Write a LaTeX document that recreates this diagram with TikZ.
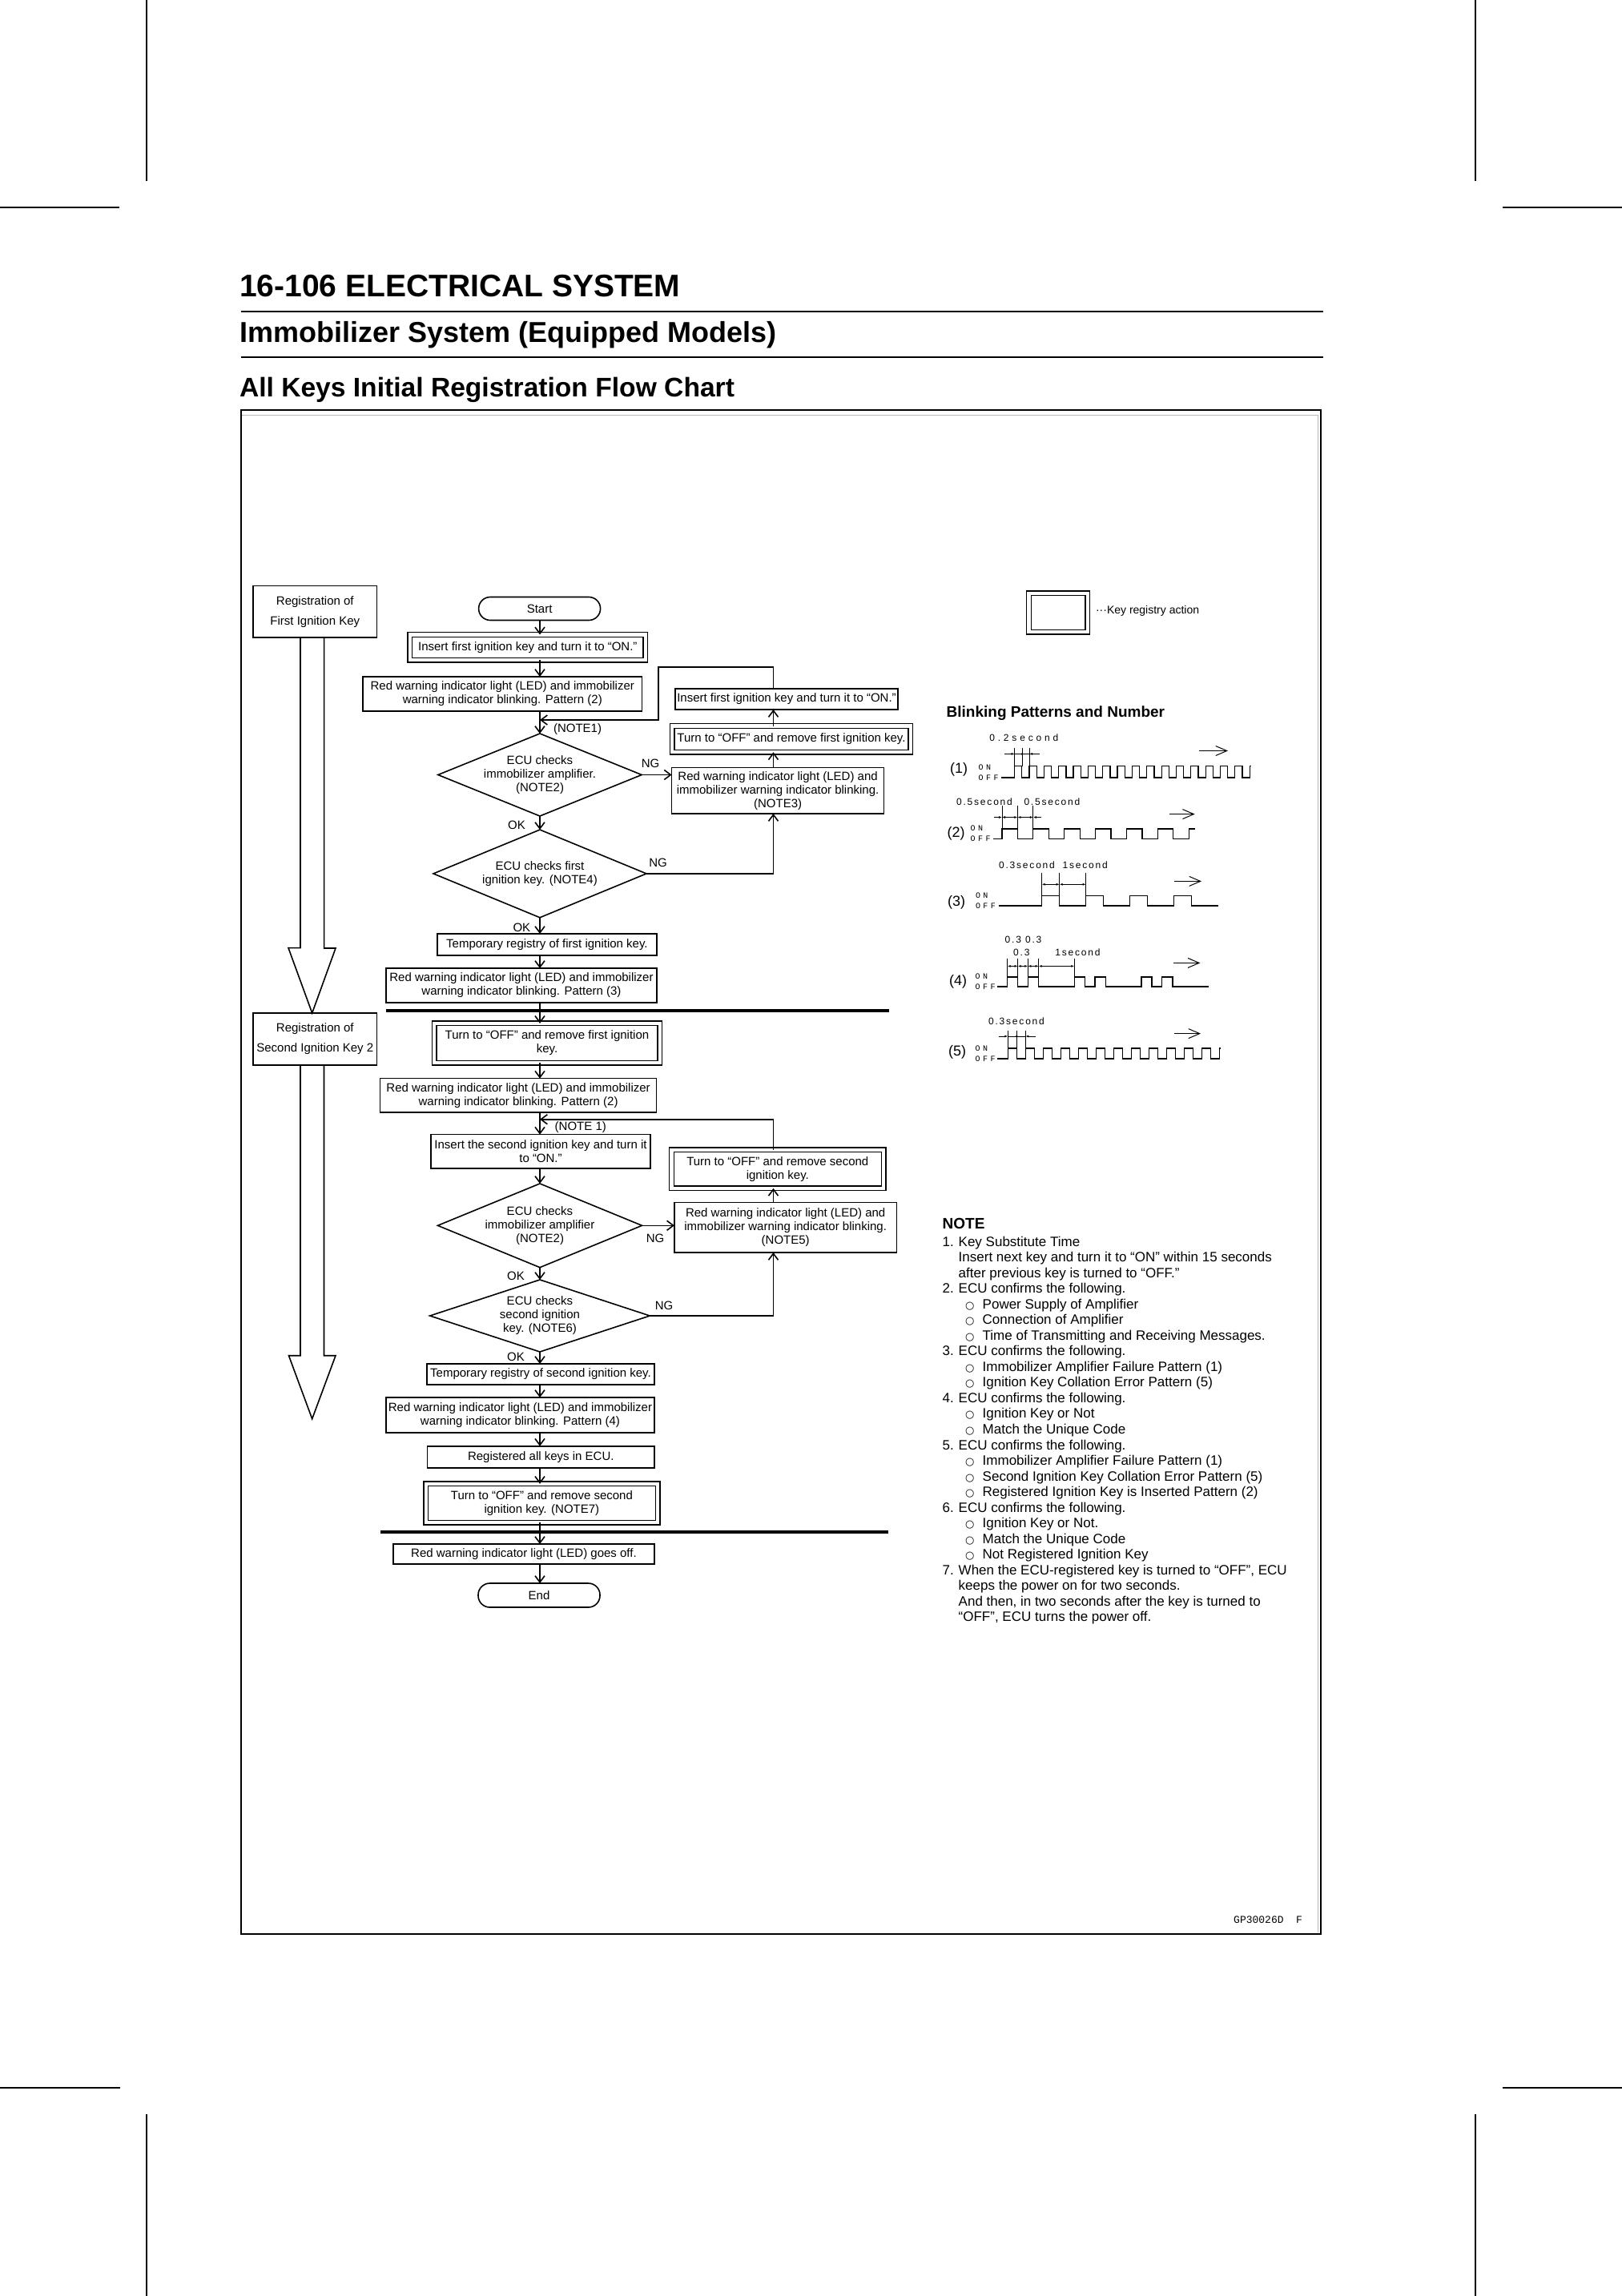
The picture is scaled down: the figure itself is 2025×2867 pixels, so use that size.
\documentclass[tikz,border=0pt]{standalone}
\usepackage{fontspec}
\setmainfont{Liberation Sans}
\newfontfamily\dimfont[LetterSpace=15]{Liberation Sans}
\newfontfamily\dimwidefont[LetterSpace=32]{Liberation Sans}
\newfontfamily\onofffont[LetterSpace=34]{Liberation Mono}
\newfontfamily\codefont{Liberation Mono}
\newfontfamily\bulfont{DejaVu Sans}
\usetikzlibrary{shapes.geometric,arrows.meta,calc,positioning}

\newcommand\flowfont{\fontsize{15}{17}\selectfont}
\newcommand\nnum[2]{\makebox[20pt][l]{#1}#2}
\newcommand\ncont[1]{\hspace*{20pt}#1}
\newcommand\nbul[1]{\hspace*{28.3pt}\makebox[21.7pt][l]{\bulfont\fontsize{13}{13}\selectfont ○}#1}

\begin{document}
\begin{tikzpicture}[%
    x=1pt, y=-1pt,
    >={Straight Barb[length=8pt,width=12pt]},
    line width=1.7pt,
    every node/.style={inner sep=0pt, outer sep=0pt},
    sz/.style 2 args={minimum width=#1pt, minimum height=#2pt},
    box/.style={draw, line width=1.6pt, align=center, font=\flowfont},
    keybox/.style={box, double, double distance=4.2pt, line width=1.4pt},
    term/.style={box, rounded corners=14.5pt},
    decision/.style={draw, diamond, line width=1.6pt},
    regbox/.style={box, font=\fontsize{15}{25}\selectfont},
    lbl/.style={font=\flowfont},
    flow/.style={->, line width=1.6pt},
    bigarrow/.style={line width=1.6pt, line join=miter},
    sep/.style={line width=3.2pt},
    wave/.style={line width=1.2pt, line join=miter},
    dim/.style={line width=0.9pt},
    dimarr/.style={dim, -{Latex[length=4pt,width=3pt]}},
    dimboth/.style={dim, {Latex[length=4pt,width=3pt]}-{Latex[length=4pt,width=3pt]}},
    runarrow/.style={line width=1pt, -{Straight Barb[length=14pt,width=12pt]}},
    dimlbl/.style={font=\dimfont\fontsize{12}{12}\selectfont},
    onoff/.style={anchor=west, font=\onofffont\fontsize{10}{10}\selectfont},
    patno/.style={font=\fontsize{18}{18}\selectfont},
    notetxt/.style={anchor=base west, font=\fontsize{17}{19.54}\selectfont},
    crop/.style={line width=2pt},
  ]
    \useasboundingbox (0,0) rectangle (2025,2867);

    \draw[crop] (182.7,0) -- (182.7,226) (1842,0) -- (1842,226)
      (0,259.3) -- (149.3,259.3) (1875.7,259.3) -- (2025,259.3)
      (0,2607) -- (150,2607) (1875.7,2607) -- (2025,2607)
      (182.7,2640) -- (182.7,2867) (1842,2640) -- (1842,2867);

    \node[anchor=base west, font=\fontsize{39}{39}\selectfont\bfseries] (title) at (299,370) {16-106 ELECTRICAL SYSTEM};
    \draw[line width=2.5pt] (300.6,389) -- (1652,389);
    \node[anchor=base west, font=\fontsize{36}{36}\selectfont\bfseries] (subtitle) at (299,427) {Immobilizer System (Equipped Models)};
    \draw[line width=2.5pt] (300.6,446) -- (1652,446);
    \node[anchor=base west, font=\fontsize{33.6}{33.6}\selectfont\bfseries] (section) at (299,495) {All Keys Initial Registration Flow Chart};

    \draw[line width=2pt] (300.7,512.3) rectangle (1648.5,2415);
    \draw[gray!55, line width=1pt] (302,518.8) -- (1645,518.8) -- (1645,2413);

    \coordinate (ax) at (674,0);
    \coordinate (rx) at (965.5,0);

    \node[regbox, sz={154.6}{64.6}] (reg1) at (393.3,763.7) {Registration of\\First Ignition Key};
    \node[regbox, sz={154.6}{65}] (reg2) at (393.3,1297.5) {Registration of\\Second Ignition Key 2};

    \node[term, sz={152}{29}] (start) at (673.6,760) {Start};
    \node[keybox, sz={293.9}{31.7}] (ins1) at (658.8,808.3) {Insert first ignition key and turn it to “ON.”};
    \node[box, sz={348.6}{43}] (red2a) at (627.3,866.5) {Red warning indicator light (LED) and immobilizer\\warning indicator blinking. Pattern (2)};
    \node[lbl] (note1a) at (721,911) {(NOTE1)};
    \node[decision, sz={254.3}{103}, label={[name=d1txt, font=\flowfont, align=center]center:{ECU checks\\immobilizer amplifier.\\(NOTE2)}}] (d1) at (674,967.5) {};
    \node[lbl] (ng1) at (812,953) {NG};
    \node[lbl] (ok1) at (645,1030) {OK};
    \node[decision, sz={266}{109.7}, label={[name=d2txt, font=\flowfont, align=center]center:{ECU checks first\\ignition key. (NOTE4)}}] (d2) at (674,1090.9) {};
    \node[lbl] (ng2) at (821.5,1077) {NG};
    \node[lbl] (ok2) at (651.4,1158.6) {OK};
    \node[box, sz={274.3}{27}] (tmp1) at (682.9,1179.5) {Temporary registry of first ignition key.};
    \node[box, sz={338}{43}] (red3) at (651,1230.5) {Red warning indicator light (LED) and immobilizer\\warning indicator blinking. Pattern (3)};

    \node[box, sz={278}{26}] (ins1b) at (982,873) {Insert first ignition key and turn it to “ON.”};
    \node[keybox, sz={297.4}{32.8}] (off1) at (988,922.9) {Turn to “OFF” and remove first ignition key.};
    \node[box, sz={265}{57.4}] (note3) at (971.1,987.3) {Red warning indicator light (LED) and\\immobilizer warning indicator blinking.\\(NOTE3)};

    \draw[sep] (482,1262) -- (1110,1262);

    \node[keybox, sz={281.4}{49.3}] (off1b) at (683,1302.5) {Turn to “OFF” and remove first ignition\\key.};
    \node[box, sz={345}{42.3}] (red2b) at (647.1,1367.8) {Red warning indicator light (LED) and immobilizer\\warning indicator blinking. Pattern (2)};
    \node[lbl] (note1b) at (724.8,1408) {(NOTE 1)};
    \node[box, sz={274}{42.3}] (ins2) at (675,1437.8) {Insert the second ignition key and turn it\\to “ON.”};
    \node[decision, sz={255}{104.7}, label={[name=d3txt, font=\flowfont, align=center]center:{ECU checks\\immobilizer amplifier\\(NOTE2)}}] (d3) at (674,1530.3) {};
    \node[lbl] (ng3) at (818,1546.7) {NG};
    \node[lbl] (ok3) at (644,1593) {OK};
    \node[decision, sz={274.6}{90}, label={[name=d4txt, font=\flowfont, align=center]center:{ECU checks\\second ignition\\key. (NOTE6)}}] (d4) at (674,1643) {};
    \node[lbl] (ng4) at (829,1630) {NG};
    \node[lbl] (ok4) at (644,1694) {OK};
    \node[box, sz={284}{26}] (tmp2) at (675,1716) {Temporary registry of second ignition key.};
    \node[box, sz={335}{44}] (red4) at (649.5,1767) {Red warning indicator light (LED) and immobilizer\\warning indicator blinking. Pattern (4)};
    \node[box, sz={283.5}{27.3}] (regall) at (675.3,1819.4) {Registered all keys in ECU.};
    \node[keybox, sz={289.6}{48.3}] (off3) at (676.4,1877) {Turn to “OFF” and remove second\\ignition key. (NOTE7)};

    \node[keybox, sz={264.7}{48}] (off2) at (970.8,1459.8) {Turn to “OFF” and remove second\\ignition key.};
    \node[box, sz={277.5}{62.3}] (note5) at (980.7,1532.8) {Red warning indicator light (LED) and\\immobilizer warning indicator blinking.\\(NOTE5)};

    \draw[sep] (475,1913) -- (1109,1913);

    \node[box, sz={326}{25}] (offled) at (654,1940.5) {Red warning indicator light (LED) goes off.};
    \node[term, sz={152}{30}] (end) at (673,1992) {End};

    \path[flow]
    (start.south -| ax) edge (ins1.north -| ax)
    (ins1.south -| ax) edge (red2a.north -| ax)
    (red2a.south -| ax) edge (d1.north)
    (d1.south) edge (d2.north)
    (d2.south) edge (tmp1.north -| ax)
    (tmp1.south -| ax) edge (red3.north -| ax)
    (red3.south -| ax) edge (off1b.north -| ax)
    (off1b.south -| ax) edge (red2b.north -| ax)
    (red2b.south -| ax) edge (ins2.north -| ax)
    (ins2.south -| ax) edge (d3.north)
    (d3.south) edge (d4.north)
    (d4.south) edge (tmp2.north -| ax)
    (tmp2.south -| ax) edge (red4.north -| ax)
    (red4.south -| ax) edge (regall.north -| ax)
    (regall.south -| ax) edge (off3.north -| ax)
    (off3.south -| ax) edge (offled.north -| ax)
    (offled.south -| ax) edge (end.north -| ax)
    (d1.east) edge (d1.east -| note3.west)
    (note3.north -| rx) edge (off1.south -| rx)
    (off1.north -| rx) edge (ins1b.south -| rx)
    (d3.east) edge (d3.east -| note5.west)
    (note5.north -| rx) edge (off2.south -| rx)
    ;

    \coordinate (lp1a) at (822,833);
    \coordinate (lp1b) at (822,899);
    \coordinate (lp2) at (674,1397.7);
    \draw[flow] (ins1b.north -| rx) |- (lp1a) -- (lp1b) -- (lp1b -| ax);
    \draw[flow] (d2.east) -| (note3.south -| rx);
    \draw[flow] (off2.north -| rx) |- (lp2);
    \draw[flow] (d4.east) -| (note5.south -| rx);

    \draw[bigarrow] ([xshift=-18.3pt]reg1.south) -- ++(0,387.6) -- ++(-15,0) -- ([xshift=-3.6pt]reg2.north)
      -- ++(29.3,-81) -- ++(-14.4,0) -- ([xshift=11.3pt]reg1.south);
    \draw[bigarrow] ([xshift=-18.3pt]reg2.south) -- ++(0,362.7) -- ++(-14.5,0) -- ++(29.2,79)
      -- ++(29.3,-79) -- ++(-14.5,0) -- ([xshift=11.2pt]reg2.south);

    \node[keybox, sz={73.3}{48.5}] (legbox) at (1321.2,764.9) {};
    \node[anchor=west, font=\fontsize{14}{14}\selectfont] (legtxt) at (1368,762.7) {···Key registry action};

    \node[anchor=base west, font=\fontsize{19}{19}\selectfont\bfseries] (blink) at (1181.7,895) {Blinking Patterns and Number};

    \node[patno] (p1) at (1197,961) {(1)};
    \node[onoff] (p1on) at (1221.7,958) {ON};
    \node[onoff] (p1off) at (1221.7,971) {OFF};
    \draw[wave] (1250,971) -- (1266.7,971) \foreach \k in {1,...,16} {-- ++(0,-14.5) -- ++(9.17,0) -- ++(0,14.5) -- ++(9.17,0)} -- ++(0,-14.5) -- ++(2,0);
    \draw[dim] (1266.7,933.5) -- (1266.7,956.5) (1276,933.5) -- (1276,956.5) (1285,933.5) -- (1285,956.5);
    \draw[dimarr] (1254,941.4) -- (1266.7,941.4);
    \draw[dim] (1266.7,941.4) -- (1285,941.4);
    \fill (1276,941.4) circle (1.4);
    \draw[dimarr] (1298,941.4) -- (1285,941.4);
    \node[font=\dimwidefont\fontsize{12}{12}\selectfont] (p1dim) at (1278.3,921) {0.2second};
    \draw[runarrow] (1496.7,937.5) -- (1533,937.5);

    \node[patno] (p2) at (1193.5,1041) {(2)};
    \node[onoff] (p2on) at (1211.7,1033.8) {ON};
    \node[onoff] (p2off) at (1211.7,1047.6) {OFF};
    \draw[wave] (1240,1047.4) -- (1251,1047.4) \foreach \k in {1,...,6} {-- ++(0,-12.4) -- ++(19.44,0) -- ++(0,12.4) -- ++(19.44,0)} -- ++(0,-12.4) -- ++(7.5,0);
    \draw[dim] (1251,1005.5) -- (1251,1035) (1270.4,1005.5) -- (1270.4,1035) (1289.9,1005.5) -- (1289.9,1035);
    \draw[dimarr] (1241,1020.5) -- (1251,1020.5);
    \draw[dimboth] (1251,1020.5) -- (1270.4,1020.5);
    \draw[dimboth] (1270.4,1020.5) -- (1289.9,1020.5);
    \draw[dimarr] (1300,1020.5) -- (1289.9,1020.5);
    \node[dimlbl] (p2dima) at (1229,1000.7) {0.5second};
    \node[dimlbl] (p2dimb) at (1313.4,1000.7) {0.5second};
    \draw[runarrow] (1460,1016.6) -- (1491.7,1016.6);

    \node[patno] (p3) at (1194,1127) {(3)};
    \node[onoff] (p3on) at (1218,1118) {ON};
    \node[onoff] (p3off) at (1218,1131) {OFF};
    \draw[wave] (1246.7,1131) -- (1300.7,1131) \foreach \k in {1,...,4} {-- ++(0,-12.4) -- ++(22,0) -- ++(0,12.4) -- ++(33,0)};
    \draw[dim] (1300.7,1089.7) -- (1300.7,1118.6) (1322.7,1089.7) -- (1322.7,1118.6) (1355.7,1089.7) -- (1355.7,1118.6);
    \draw[dimboth] (1300.7,1104.3) -- (1322.7,1104.3);
    \draw[dimboth] (1322.7,1104.3) -- (1355.7,1104.3);
    \node[dimlbl] (p3dima) at (1282,1080.6) {0.3second};
    \node[dimlbl] (p3dimb) at (1354.7,1080.6) {1second};
    \draw[runarrow] (1466,1100.4) -- (1500,1100.4);

    \node[patno] (p4) at (1196,1226) {(4)};
    \node[onoff] (p4on) at (1217.7,1219) {ON};
    \node[onoff] (p4off) at (1217.7,1232) {OFF};
    \draw[wave] (1245,1232) -- (1257.7,1232) \foreach \k in {1,2,3} {-- ++(0,-12) -- ++(13,0) -- ++(0,12) -- ++(12.6,0) -- ++(0,-12) -- ++(13.4,0) -- ++(0,12) -- ++(44.6,0)};
    \draw[dim] (1257.7,1196.5) -- (1257.7,1220) (1270.7,1196.5) -- (1270.7,1220) (1283.3,1196.5) -- (1283.3,1220)
      (1296.7,1196.5) -- (1296.7,1220) (1341.3,1196.5) -- (1341.3,1220);
    \draw[dimboth] (1257.7,1206.4) -- (1270.7,1206.4);
    \draw[dimboth] (1270.7,1206.4) -- (1283.3,1206.4);
    \draw[dimboth] (1283.3,1206.4) -- (1296.7,1206.4);
    \draw[dimboth] (1296.7,1206.4) -- (1341.3,1206.4);
    \node[dimlbl] (p4dima) at (1277.5,1173) {0.3 0.3};
    \node[dimlbl] (p4dimb) at (1275.3,1189.4) {0.3};
    \node[dimlbl] (p4dimc) at (1345.5,1189.4) {1second};
    \draw[runarrow] (1465,1202.4) -- (1498.3,1202.4);

    \node[patno] (p5) at (1195,1314.3) {(5)};
    \node[onoff] (p5on) at (1217.7,1309) {ON};
    \node[onoff] (p5off) at (1217.7,1322) {OFF};
    \draw[wave] (1245,1322) -- (1258.3,1322) \foreach \k in {1,...,12} {-- ++(0,-13) -- ++(11,0) -- ++(0,13) -- ++(11,0)} -- ++(0,-13) -- ++(1.5,0);
    \draw[dim] (1258.3,1286.6) -- (1258.3,1309) (1269.3,1286.6) -- (1269.3,1309) (1280.3,1286.6) -- (1280.3,1309);
    \draw[dimarr] (1246.7,1294) -- (1258.3,1294);
    \draw[dim] (1258.3,1294) -- (1280.3,1294);
    \fill (1269.3,1294) circle (1.4);
    \draw[dimarr] (1293.3,1294) -- (1280.3,1294);
    \node[dimlbl] (p5dim) at (1269,1275.6) {0.3second};
    \draw[runarrow] (1466,1290.6) -- (1499,1290.6);

    \node[anchor=base west, font=\fontsize{19}{19}\selectfont\bfseries] (notehead) at (1176.7,1534.8) {NOTE};
    \foreach \txt [count=\i from 0] in {
      {\nnum{1.}{Key Substitute Time}},
      {\ncont{Insert next key and turn it to “ON” within 15 seconds}},
      {\ncont{after previous key is turned to “OFF.”}},
      {\nnum{2.}{ECU confirms the following.}},
      {\nbul{Power Supply of Amplifier}},
      {\nbul{Connection of Amplifier}},
      {\nbul{Time of Transmitting and Receiving Messages.}},
      {\nnum{3.}{ECU confirms the following.}},
      {\nbul{Immobilizer Amplifier Failure Pattern (1)}},
      {\nbul{Ignition Key Collation Error Pattern (5)}},
      {\nnum{4.}{ECU confirms the following.}},
      {\nbul{Ignition Key or Not}},
      {\nbul{Match the Unique Code}},
      {\nnum{5.}{ECU confirms the following.}},
      {\nbul{Immobilizer Amplifier Failure Pattern (1)}},
      {\nbul{Second Ignition Key Collation Error Pattern (5)}},
      {\nbul{Registered Ignition Key is Inserted Pattern (2)}},
      {\nnum{6.}{ECU confirms the following.}},
      {\nbul{Ignition Key or Not.}},
      {\nbul{Match the Unique Code}},
      {\nbul{Not Registered Ignition Key}},
      {\nnum{7.}{When the ECU-registered key is turned to “OFF”, ECU}},
      {\ncont{keeps the power on for two seconds.}},
      {\ncont{And then, in two seconds after the key is turned to}},
      {\ncont{“OFF”, ECU turns the power off.}}
    }
      \node[notetxt] (note\i) at (1176.7,{1556+\i*19.54}) {\txt};

    \node[anchor=base east, font=\codefont\fontsize{13}{13}\selectfont] (code) at (1626,2401) {GP30026D\ \ F};
  \end{tikzpicture}
\end{document}
